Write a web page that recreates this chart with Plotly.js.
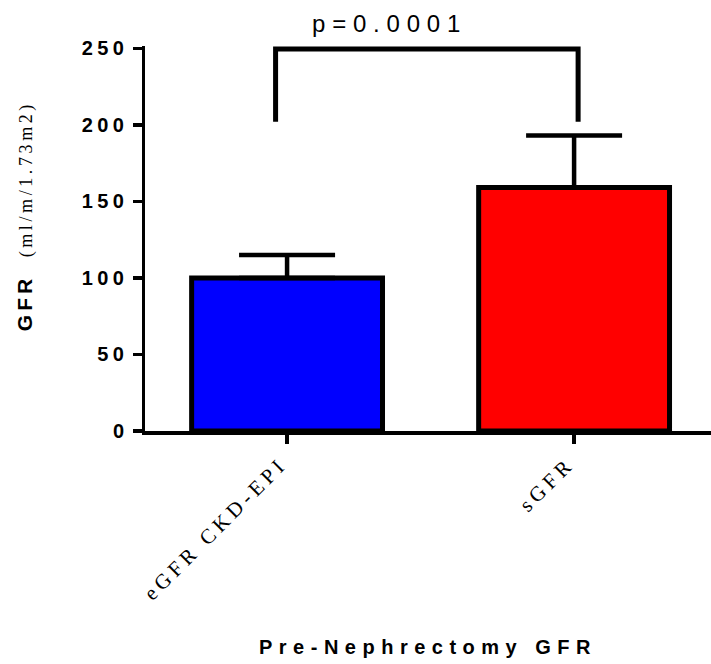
<!DOCTYPE html>
<html>
<head>
<meta charset="utf-8">
<script src="https://cdn.plot.ly/plotly-3.0.1.min.js"></script>
<style>
  html, body { margin: 0; padding: 0; background: #fff; }
  #chart { width: 711px; height: 664px; }
  .ytick text { letter-spacing: 4.5px; }
  .xtick text { letter-spacing: 4.5px; }
</style>
</head>
<body>
<div id="chart"></div>
<script>
// ---- data ----
const categories = ["eGFR CKD-EPI", "sGFR"];
const categoryPos = [0, 1];
const gfrMean = [100, 159];
const gfrErrUp = [15, 34];
const barColors = ["#0000ff", "#ff0000"];
const yTickVals = [0, 50, 100, 150, 200, 250];
const yTickText = ["0", "50", "100", "150", "200", "250"];
const bracketX = [-0.04, -0.04, 1.014, 1.014];
const bracketY = [202, 249.6, 249.6, 202];
const pLabel = "p=0.0001";
const xTitle = "Pre-Nephrectomy GFR";
const yTitleMain = "GFR";
const yTitleUnit = "(ml/m/1.73m2)";

const bars = {
  type: "bar",
  x: categoryPos,
  y: gfrMean,
  width: 0.665,
  marker: { color: barColors, line: { color: "#000", width: 5 } },
  error_y: {
    type: "data", symmetric: false, array: gfrErrUp, arrayminus: [0, 0],
    color: "#000", thickness: 4.5, width: 48
  },
  hoverinfo: "skip",
  showlegend: false
};

const bracket = {
  type: "scatter",
  mode: "lines",
  x: bracketX,
  y: bracketY,
  line: { color: "#000", width: 5 },
  cliponaxis: false,
  hoverinfo: "skip",
  showlegend: false
};

const layout = {
  width: 711,
  height: 664,
  margin: { l: 145, r: 0, t: 46, b: 233, pad: 0 },
  paper_bgcolor: "#fff",
  plot_bgcolor: "#fff",
  showlegend: false,
  xaxis: {
    type: "linear",
    range: [-0.495, 1.477],
    tickvals: categoryPos,
    ticktext: categories,
    tickangle: -45,
    ticklabelshift: -6,
    tickfont: { family: "Liberation Serif", size: 21, color: "#000" },
    ticks: "outside", ticklen: 9, tickwidth: 3.5, tickcolor: "#000",
    showline: true, linecolor: "#000", linewidth: 3.5,
    showgrid: false, zeroline: false, fixedrange: true
  },
  yaxis: {
    range: [0, 251.5],
    tickvals: yTickVals,
    ticktext: yTickText,
    tickfont: { family: "Liberation Sans", size: 20, weight: "bold", color: "#000" },
    ticks: "outside", ticklen: 9, tickwidth: 3.5, tickcolor: "#000",
    showline: true, linecolor: "#000", linewidth: 3.5,
    showgrid: false, zeroline: false, fixedrange: true
  },
  annotations: [
    {
      xref: "paper", yref: "paper", x: 0.432, y: 1, yanchor: "bottom", xanchor: "center",
      yshift: 7, showarrow: false,
      text: '<span style="letter-spacing:6.8px">' + pLabel + '</span>',
      font: { family: "Liberation Sans", size: 24, color: "#000" }
    },
    {
      xref: "paper", yref: "paper", x: -0.212, y: 0.558, xanchor: "center", yanchor: "middle",
      textangle: -90, showarrow: false,
      text: '<span style="letter-spacing:4px;font-weight:bold">' + yTitleMain + '</span>\u00a0\u00a0\u00a0' +
            '<span style="font-family:\'Liberation Serif\';font-size:18px;letter-spacing:3.6px">' + yTitleUnit + '</span>',
      font: { family: "Liberation Sans", size: 21, color: "#000" }
    },
    {
      xref: "paper", yref: "paper", x: 0.5, y: -0.561, xanchor: "center", yanchor: "middle",
      showarrow: false,
      text: '<span style="letter-spacing:6.5px">' + xTitle + '</span>',
      font: { family: "Liberation Sans", size: 20, weight: "bold", color: "#000" }
    }
  ]
};

Plotly.newPlot("chart", [bars, bracket], layout, { staticPlot: true, displayModeBar: false });
</script>
</body>
</html>
